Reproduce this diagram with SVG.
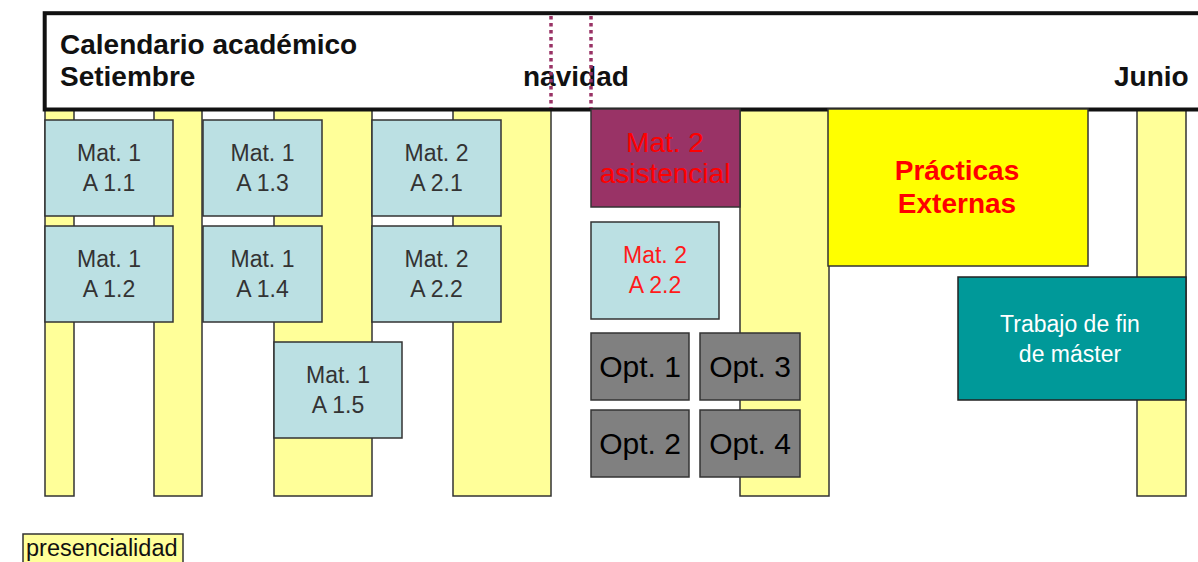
<svg xmlns="http://www.w3.org/2000/svg" width="1198" height="562" viewBox="0 0 1198 562">
<style>
.col{fill:#FFFF99;stroke:#333;stroke-width:1.5}
.mat{fill:#BBE0E3;stroke:#333;stroke-width:1.5}
.opt{fill:#808080;stroke:#333;stroke-width:1.5}
.mt{font-family:"Liberation Sans",Arial,sans-serif;font-size:23px;fill:#333;text-anchor:middle}
.ot{font-family:"Liberation Sans",Arial,sans-serif;font-size:30px;fill:#000;text-anchor:middle}
.hd{font-family:"Liberation Sans",Arial,sans-serif;font-size:28px;font-weight:bold;fill:#111}
.dot{stroke:#993366;stroke-width:3.5;stroke-dasharray:3.5 3.5;fill:none}
</style>
<rect width="1198" height="562" fill="#fff"/>
<g id="columns">
<rect class="col" x="45" y="110" width="29" height="386"/>
<rect class="col" x="154" y="110" width="48" height="386"/>
<rect class="col" x="274" y="110" width="98" height="386"/>
<rect class="col" x="453" y="110" width="98" height="386"/>
<rect class="col" x="740" y="110" width="89" height="386"/>
<rect class="col" x="1137" y="110" width="49" height="386"/>
</g>
<g id="header">
<rect x="44.7" y="13.2" width="1170" height="96.3" fill="#fff" stroke="#111" stroke-width="4"/>
<text class="hd" x="60" y="54">Calendario académico</text>
<text class="hd" x="60" y="86">Setiembre</text>
<text class="hd" x="523" y="86">navidad</text>
<text class="hd" x="1114" y="86">Junio</text>
</g>
<g id="connectors">
<line class="dot" x1="551" y1="16" x2="551" y2="108"/>
<line class="dot" x1="591" y1="16" x2="591" y2="108"/>
</g>
<g id="a11"><rect class="mat" x="45" y="120" width="128" height="96"/><text class="mt" x="109" y="161">Mat. 1</text><text class="mt" x="109" y="191">A 1.1</text></g>
<g id="a13"><rect class="mat" x="203" y="120" width="119" height="96"/><text class="mt" x="262.5" y="161">Mat. 1</text><text class="mt" x="262.5" y="191">A 1.3</text></g>
<g id="a21"><rect class="mat" x="372" y="120" width="129" height="96"/><text class="mt" x="436.5" y="161">Mat. 2</text><text class="mt" x="436.5" y="191">A 2.1</text></g>
<g id="a12"><rect class="mat" x="45" y="226" width="128" height="96"/><text class="mt" x="109" y="267">Mat. 1</text><text class="mt" x="109" y="297">A 1.2</text></g>
<g id="a14"><rect class="mat" x="203" y="226" width="119" height="96"/><text class="mt" x="262.5" y="267">Mat. 1</text><text class="mt" x="262.5" y="297">A 1.4</text></g>
<g id="a22"><rect class="mat" x="372" y="226" width="129" height="96"/><text class="mt" x="436.5" y="267">Mat. 2</text><text class="mt" x="436.5" y="297">A 2.2</text></g>
<g id="a15"><rect class="mat" x="274" y="342" width="128" height="96"/><text class="mt" x="338" y="383">Mat. 1</text><text class="mt" x="338" y="413">A 1.5</text></g>
<g id="asistencial"><rect x="591" y="109" width="149" height="98" fill="#993366" stroke="#333" stroke-width="1.5"/><text class="mt" x="665" y="152" style="font-size:28px;fill:#FF0000">Mat. 2</text><text class="mt" x="665" y="183" style="font-size:28px;fill:#FF0000">asistencial</text></g>
<g id="a22b"><rect class="mat" x="591" y="222" width="128" height="97"/><text class="mt" x="655" y="263" style="fill:#FF1A1A">Mat. 2</text><text class="mt" x="655" y="293" style="fill:#FF1A1A">A 2.2</text></g>
<g id="opt1"><rect class="opt" x="591" y="333" width="98" height="67"/><text class="ot" x="640" y="377">Opt. 1</text></g>
<g id="opt3"><rect class="opt" x="700" y="333" width="100" height="67"/><text class="ot" x="750" y="377">Opt. 3</text></g>
<g id="opt2"><rect class="opt" x="591" y="410" width="98" height="67"/><text class="ot" x="640" y="454">Opt. 2</text></g>
<g id="opt4"><rect class="opt" x="700" y="410" width="100" height="67"/><text class="ot" x="750" y="454">Opt. 4</text></g>
<g id="practicas"><rect x="828" y="109" width="260" height="157" fill="#FFFF00" stroke="#333" stroke-width="1.5"/><text class="hd" x="957" y="180" text-anchor="middle" style="fill:#FF0000">Prácticas</text><text class="hd" x="957" y="213" text-anchor="middle" style="fill:#FF0000">Externas</text></g>
<g id="tfm"><rect x="958" y="277" width="228" height="123" fill="#009999" stroke="#222" stroke-width="1.5"/><text class="mt" x="1070" y="332" style="fill:#fff">Trabajo de fin</text><text class="mt" x="1070" y="362" style="fill:#fff">de máster</text></g>
<g id="legend"><rect x="23" y="534" width="160" height="40" fill="#FFFF99" stroke="#333" stroke-width="1.5"/><text x="26" y="556" font-family="Liberation Sans, Arial, sans-serif" font-size="23.5" fill="#111">presencialidad</text></g>
</svg>
